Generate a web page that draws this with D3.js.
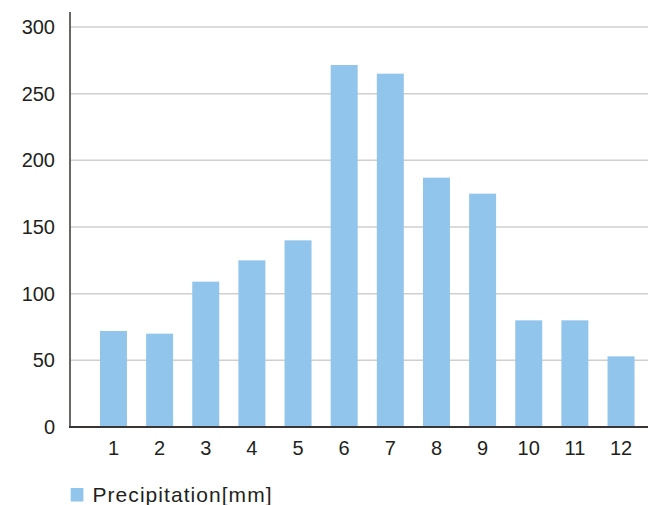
<!DOCTYPE html>
<html>
<head>
<meta charset="utf-8">
<script src="https://cdn.jsdelivr.net/npm/d3@7"></script>
<style>
  html, body { margin: 0; padding: 0; background: #fff; }
  svg { display: block; }
  text { font-family: "Liberation Sans", Arial, sans-serif; fill: #231f20; }
</style>
</head>
<body>
<svg id="chart" width="648" height="505"></svg>
<script>
const months = ["1","2","3","4","5","6","7","8","9","10","11","12"];
const precipitation = [72, 70, 109, 125, 140, 271.5, 265, 187, 175, 80, 80, 53];
const yTicks = [0, 50, 100, 150, 200, 250, 300];
const seriesName = "Precipitation[mm]";

const svg = d3.select("#chart");
const axisX = 70, baseY = 427, topY = 27;

const x = d3.scaleBand().domain(months).range([90.4, 644.1])
  .paddingInner(0.415).paddingOuter(0.2075);
const y = d3.scaleLinear().domain([0, 300]).range([baseY, topY]);

// gridlines
svg.append("g").selectAll("line").data(yTicks.filter(d => d > 0)).join("line")
  .attr("x1", axisX).attr("x2", 648)
  .attr("y1", d => y(d)).attr("y2", d => y(d))
  .attr("stroke", "#cfcfcf").attr("stroke-width", 1.5);

// bars
svg.append("g").selectAll("rect").data(precipitation).join("rect")
  .attr("x", (d, i) => x(months[i]))
  .attr("width", x.bandwidth())
  .attr("y", d => y(d))
  .attr("height", d => baseY - y(d))
  .attr("fill", "#92c5ec");

// y axis line
svg.append("line").attr("x1", axisX).attr("x2", axisX).attr("y1", 12).attr("y2", baseY)
  .attr("stroke", "#6b6767").attr("stroke-width", 2);
// x axis line
svg.append("line").attr("x1", axisX - 1).attr("x2", 648).attr("y1", baseY).attr("y2", baseY)
  .attr("stroke", "#3a3535").attr("stroke-width", 2);

// y tick labels
svg.append("g").selectAll("text").data(yTicks).join("text")
  .attr("x", 55).attr("y", d => y(d) + 7)
  .attr("text-anchor", "end").attr("font-size", 20)
  .text(d => d);

// x tick labels
svg.append("g").selectAll("text").data(months).join("text")
  .attr("x", d => x(d) + x.bandwidth() / 2).attr("y", 455)
  .attr("text-anchor", "middle").attr("font-size", 20)
  .text(d => d);

// legend
svg.append("rect").attr("x", 70.7).attr("y", 488).attr("width", 12.7).attr("height", 13.5)
  .attr("fill", "#92c5ec");
svg.append("text").attr("x", 92.5).attr("y", 501.7).attr("font-size", 21)
  .attr("letter-spacing", 1.05)
  .text(seriesName);
</script>
</body>
</html>
